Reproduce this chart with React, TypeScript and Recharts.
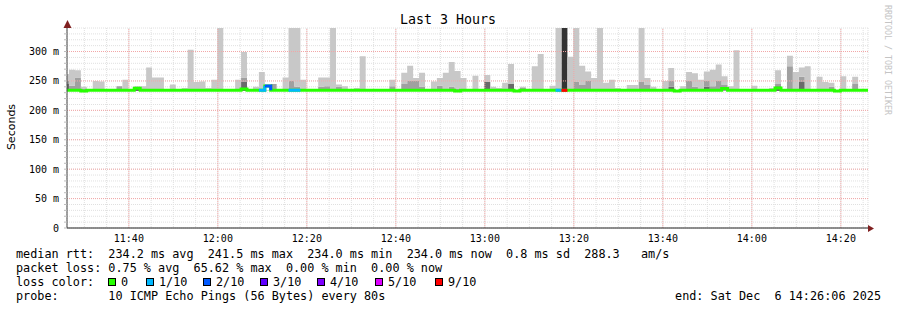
import React from 'react';
import {
  ComposedChart,
  Area,
  Line,
  XAxis,
  YAxis,
  CartesianGrid,
  ReferenceLine,
} from 'recharts';

// time axis: minutes since 11:26:06, one smoke sample every 80 s
const START_MIN = 11 * 60 + 26 + 6 / 60;
const STEP_MIN = 80 / 60;
const FIRST_T = 0.45 - STEP_MIN; // first sample is cut by the left edge
const SMOKE_FLOOR = 233;

const xLabels = ['11:40', '12:00', '12:20', '12:40', '13:00', '13:20', '13:40', '14:00', '14:20'];
const yLabels = [0, 50, 100, 150, 200, 250, 300];

// top of the lightest smoke (max ping) per sample, ms
const maxVals = [
  262, 269, 268, 240, 234, 250, 249, 234, 234, 241,
  252, 234, 240, 241, 273, 256, 256, 234, 244, 234,
  238, 303, 248, 249, 238, 252, 345, 234, 234, 252,
  299, 234, 240, 265, 234, 245, 234, 256, 345, 345,
  252, 234, 234, 256, 256, 345, 244, 241, 234, 238,
  292, 234, 234, 234, 234, 252, 234, 264, 276, 255,
  264, 234, 249, 255, 264, 282, 267, 255, 234, 259,
  234, 260, 240, 238, 247, 279, 234, 240, 234, 275,
  296, 234, 242, 345, 345, 291, 345, 276, 266, 255,
  345, 247, 252, 238, 234, 243, 243, 345, 255, 240,
  234, 250, 272, 234, 241, 265, 263, 252, 266, 269,
  278, 258, 241, 302, 234, 234, 242, 234, 234, 238,
  268, 234, 293, 265, 273, 275, 234, 257, 248, 247,
  234, 258, 234, 257, 234, 234,
];

// top of the medium grey smoke (0 = none)
const midVals = [
  250, 242, 256, 237, 0, 0, 0, 0, 0, 241,
  0, 0, 0, 0, 0, 0, 0, 0, 237, 0,
  0, 0, 0, 0, 0, 0, 0, 0, 0, 0,
  256, 0, 0, 0, 0, 245, 0, 0, 250, 240,
  0, 0, 0, 240, 241, 0, 240, 0, 0, 0,
  0, 0, 0, 0, 0, 241, 0, 245, 250, 250,
  240, 0, 0, 242, 0, 240, 237, 0, 0, 0,
  0, 0, 0, 0, 0, 0, 0, 238, 0, 0,
  0, 0, 0, 0, 0, 0, 249, 243, 250, 0,
  0, 0, 0, 0, 0, 0, 0, 249, 243, 0,
  0, 0, 250, 0, 0, 250, 240, 0, 250, 241,
  250, 243, 0, 0, 0, 0, 0, 0, 0, 0,
  245, 0, 275, 0, 257, 0, 0, 0, 0, 240,
  0, 0, 0, 245, 0, 0,
];

// top of the dark grey smoke (0 = none)
const darkVals = [
  245, 0, 0, 0, 0, 0, 0, 0, 0, 0,
  0, 0, 240, 0, 0, 0, 0, 0, 0, 0,
  0, 0, 0, 0, 0, 0, 0, 0, 0, 0,
  249, 0, 0, 0, 0, 0, 0, 0, 0, 0,
  0, 0, 0, 0, 0, 0, 0, 0, 0, 0,
  0, 0, 0, 0, 0, 0, 0, 0, 0, 0,
  0, 0, 0, 0, 0, 0, 0, 0, 0, 0,
  0, 248, 0, 0, 0, 245, 0, 0, 0, 0,
  0, 0, 0, 0, 0, 0, 0, 0, 0, 0,
  0, 0, 0, 0, 0, 0, 0, 0, 0, 0,
  0, 0, 240, 0, 0, 0, 0, 0, 240, 0,
  0, 0, 0, 0, 0, 0, 0, 0, 0, 0,
  241, 0, 0, 0, 248, 0, 0, 0, 0, 0,
  0, 0, 0, 0, 0, 0,
];

// near-black smoke (heavy loss sample)
const blackVals = [
  0, 0, 0, 0, 0, 0, 0, 0, 0, 0,
  0, 0, 0, 0, 0, 0, 0, 0, 0, 0,
  0, 0, 0, 0, 0, 0, 0, 0, 0, 0,
  0, 0, 0, 0, 0, 0, 0, 0, 0, 0,
  0, 0, 0, 0, 0, 0, 0, 0, 0, 0,
  0, 0, 0, 0, 0, 0, 0, 0, 0, 0,
  0, 0, 0, 0, 0, 0, 0, 0, 0, 0,
  0, 0, 0, 0, 0, 0, 0, 0, 0, 0,
  0, 0, 0, 0, 345, 0, 0, 0, 0, 0,
  0, 0, 0, 0, 0, 0, 0, 0, 0, 0,
  0, 0, 0, 0, 0, 0, 0, 0, 0, 0,
  0, 0, 0, 0, 0, 0, 0, 0, 0, 0,
  0, 0, 0, 0, 0, 0, 0, 0, 0, 0,
  0, 0, 0, 0, 0, 0,
];

// median rtt per sample, ms
const medianVals = [
  234, 234, 234, 233, 234, 234, 234, 234, 234, 234,
  234, 234, 237.5, 234, 234, 234, 234, 234, 234, 234,
  234, 234, 234, 234, 234, 234, 234, 234, 234, 234,
  236.5, 234, 234, 234, 241.5, 234, 234, 234, 234, 234,
  234, 234, 234, 234, 234, 234, 234, 234, 234, 234,
  234, 234, 234, 234, 234, 234, 234, 234, 234, 234,
  234, 234, 234, 234, 234, 234, 233, 234, 234, 234,
  234, 234, 234, 234, 234, 234, 233, 234, 234, 234,
  234, 234, 234, 234, 234, 234, 234, 234, 234, 234,
  234, 234, 234, 234, 234, 234, 234, 234, 234, 234,
  234, 234, 234, 233, 234, 234, 234, 234, 234, 234,
  234, 237, 234, 234, 234, 234, 234, 234, 234, 234,
  238, 234, 234, 234, 234, 234, 234, 234, 234, 234,
  233, 234, 234, 234, 234, 234,
];

// lost pings out of 10 per sample
const lossVals = [
  0, 0, 0, 0, 0, 0, 0, 0, 0, 0,
  0, 0, 0, 0, 0, 0, 0, 0, 0, 0,
  0, 0, 0, 0, 0, 0, 0, 0, 0, 0,
  0, 0, 0, 1, 2, 0, 0, 0, 1, 1,
  0, 0, 0, 0, 0, 0, 0, 0, 0, 0,
  0, 0, 0, 0, 0, 0, 0, 0, 0, 0,
  0, 0, 0, 0, 0, 0, 0, 0, 0, 0,
  0, 0, 0, 0, 0, 0, 0, 0, 0, 0,
  0, 0, 0, 1, 9, 0, 0, 0, 0, 0,
  0, 0, 0, 0, 0, 0, 0, 0, 0, 0,
  0, 0, 0, 0, 0, 0, 0, 0, 0, 0,
  0, 0, 0, 0, 0, 0, 0, 0, 0, 0,
  0, 0, 0, 0, 0, 0, 0, 0, 0, 0,
  0, 0, 0, 0, 0, 0,
];

const lossLegend = [
  { label: '0', color: '#26ff00' },
  { label: '1/10', color: '#00b8ff' },
  { label: '2/10', color: '#0059ff' },
  { label: '3/10', color: '#5e00ff' },
  { label: '4/10', color: '#7e00ff' },
  { label: '5/10', color: '#dd00ff' },
  { label: '9/10', color: '#ff0000' },
];
const lossLevels = [
  { level: 1, color: '#00b8ff' },
  { level: 2, color: '#0059ff' },
  { level: 9, color: '#ff0000' },
];

const MONO = "'DejaVu Sans Mono', monospace";

const clockToT = (s: string) => {
  const [h, m] = s.split(':').map(Number);
  return h * 60 + m - START_MIN;
};

const majorX = xLabels.map(clockToT);
const minorX: number[] = [];
for (let m = 11 * 60 + 30; m <= 14 * 60 + 25; m += 5) minorX.push(m - START_MIN);
const minorY: number[] = [];
for (let v = 0; v <= 330; v += 10) minorY.push(v);

const rows: any[] = maxVals.map((mx, i) => {
  const blackTop = blackVals[i] > 0 ? blackVals[i] : SMOKE_FLOOR;
  const darkTop = Math.max(darkVals[i], blackTop);
  const midTop = Math.max(midVals[i], darkTop);
  const maxTop = Math.max(mx, midTop);
  return {
    t: FIRST_T + i * STEP_MIN,
    base: SMOKE_FLOOR,
    black: blackTop - SMOKE_FLOOR,
    dark: darkTop - blackTop,
    mid: midTop - darkTop,
    light: maxTop - midTop,
    med: medianVals[i],
  };
});
// closing row so the last step has a right edge
rows.push({ ...rows[rows.length - 1], t: rows[rows.length - 1].t + STEP_MIN });

lossLevels.forEach(({ level }) => {
  const key = `loss${level}`;
  lossVals.forEach((l, i) => {
    if (l !== level) return;
    rows[i][key] = rows[i].med;
    if (rows[i + 1][key] == null) rows[i + 1][key] = rows[i + 1].med;
  });
});

const XTick = (props: any) => {
  const { x, payload } = props;
  const idx = majorX.findIndex((v) => Math.abs(v - payload.value) < 0.01);
  if (idx < 0) return <g />;
  return (
    <text x={x} y={241.5} textAnchor="middle" fontFamily={MONO} fontSize={10} fill="#000">
      {xLabels[idx]}
    </text>
  );
};

const YTick = (props: any) => {
  const { y, payload } = props;
  if (!yLabels.includes(payload.value)) return <g />;
  return (
    <text x={59} y={y + 3.5} textAnchor="end" fontFamily={MONO} fontSize={10} fill="#000">
      {payload.value === 0 ? '0' : `${payload.value} m`}
    </text>
  );
};

const legendLine: React.CSSProperties = {
  position: 'absolute',
  left: 16,
  fontFamily: MONO,
  fontSize: 11.8,
  lineHeight: '14px',
  whiteSpace: 'pre',
  color: '#000',
};

const boxX = [108, 146, 203, 260, 317, 375, 435];

export default function App() {
  return (
    <div style={{ position: 'absolute', left: 0, top: 0, width: 897, height: 310, background: '#fff' }}>
      <div style={{ position: 'absolute', left: 0, top: 0 }}>
        <ComposedChart
          width={897}
          height={310}
          data={rows}
          margin={{ top: 28, right: 29, bottom: 62, left: 0 }}
        >
          <CartesianGrid stroke="#e0e0e0" strokeDasharray="1 1" />
          <XAxis
            dataKey="t"
            type="number"
            domain={[0, 180]}
            allowDataOverflow
            ticks={minorX}
            interval={0}
            height={20}
            tick={<XTick />}
            tickLine={false}
            axisLine={{ stroke: '#222' }}
          />
          <YAxis
            type="number"
            domain={[0, 340]}
            allowDataOverflow
            ticks={minorY}
            interval={0}
            width={67}
            tickSize={3}
            tick={<YTick />}
            tickLine={{ stroke: '#bbb' }}
            axisLine={{ stroke: '#444' }}
          />
          {majorX.map((v) => (
            <ReferenceLine key={`vx${v}`} x={v} stroke="#f2a6a6" strokeDasharray="1 1" />
          ))}
          {yLabels.filter((v) => v > 0).map((v) => (
            <ReferenceLine key={`hy${v}`} y={v} stroke="#f2a6a6" strokeDasharray="1 1" />
          ))}
          <Area type="stepAfter" dataKey="base" stackId="smoke" stroke="none" fill="none" isAnimationActive={false} />
          <Area type="stepAfter" dataKey="black" stackId="smoke" stroke="none" fill="#333333" fillOpacity={1} isAnimationActive={false} />
          <Area type="stepAfter" dataKey="dark" stackId="smoke" stroke="none" fill="#6a6a6a" fillOpacity={1} isAnimationActive={false} />
          <Area type="stepAfter" dataKey="mid" stackId="smoke" stroke="none" fill="#a0a0a0" fillOpacity={1} isAnimationActive={false} />
          <Area type="stepAfter" dataKey="light" stackId="smoke" stroke="none" fill="#c8c8c8" fillOpacity={1} isAnimationActive={false} />
          <Line type="stepAfter" dataKey="med" stroke="#26ff00" strokeWidth={3} dot={false} isAnimationActive={false} />
          {lossLevels.map(({ level, color }) => (
            <Line
              key={level}
              type="stepAfter"
              dataKey={`loss${level}`}
              stroke={color}
              strokeWidth={3}
              dot={false}
              isAnimationActive={false}
            />
          ))}
        </ComposedChart>
      </div>

      <svg
        width={897}
        height={310}
        style={{ position: 'absolute', left: 0, top: 0, pointerEvents: 'none' }}
      >
        <text x={448} y={24} textAnchor="middle" fontFamily={MONO} fontSize={13.3} fill="#000">
          Last 3 Hours
        </text>
        <text
          transform="translate(15,127) rotate(-90)"
          textAnchor="middle"
          fontFamily="'DejaVu Sans', sans-serif"
          fontSize={11}
          fill="#000"
        >
          Seconds
        </text>
        <text
          transform="translate(885,60) rotate(90)"
          textAnchor="middle"
          fontFamily={MONO}
          fontSize={8.3}
          fill="#c4c4c4"
        >
          RRDTOOL / TOBI OETIKER
        </text>
        <line x1={868} y1={228.5} x2={871} y2={228.5} stroke="#222" />
        <polygon points="868,225 874,228.5 868,232" fill="#802020" />
        <polygon points="63.5,28 67.5,20 71.5,28" fill="#802020" />
      </svg>

      <div style={{ ...legendLine, top: 247 }}>
        {'median rtt:  234.2 ms avg  241.5 ms max  234.0 ms min  234.0 ms now  0.8 ms sd  288.3   am/s'}
      </div>
      <div style={{ ...legendLine, top: 261 }}>
        {'packet loss: 0.75 % avg  65.62 % max  0.00 % min  0.00 % now'}
      </div>
      <div style={{ ...legendLine, top: 275 }}>{'loss color:'}</div>
      {lossLegend.map((l, i) => (
        <React.Fragment key={l.label}>
          <div
            style={{
              position: 'absolute',
              left: boxX[i],
              top: 278,
              width: 6,
              height: 6,
              border: '1px solid #000',
              background: l.color,
            }}
          />
          <div style={{ ...legendLine, left: boxX[i] + 13, top: 275 }}>{l.label}</div>
        </React.Fragment>
      ))}
      <div style={{ ...legendLine, top: 289 }}>
        {'probe:       10 ICMP Echo Pings (56 Bytes) every 80s'}
      </div>
      <div style={{ ...legendLine, left: 'auto', right: 16, top: 289 }}>
        {'end: Sat Dec  6 14:26:06 2025'}
      </div>
    </div>
  );
}
